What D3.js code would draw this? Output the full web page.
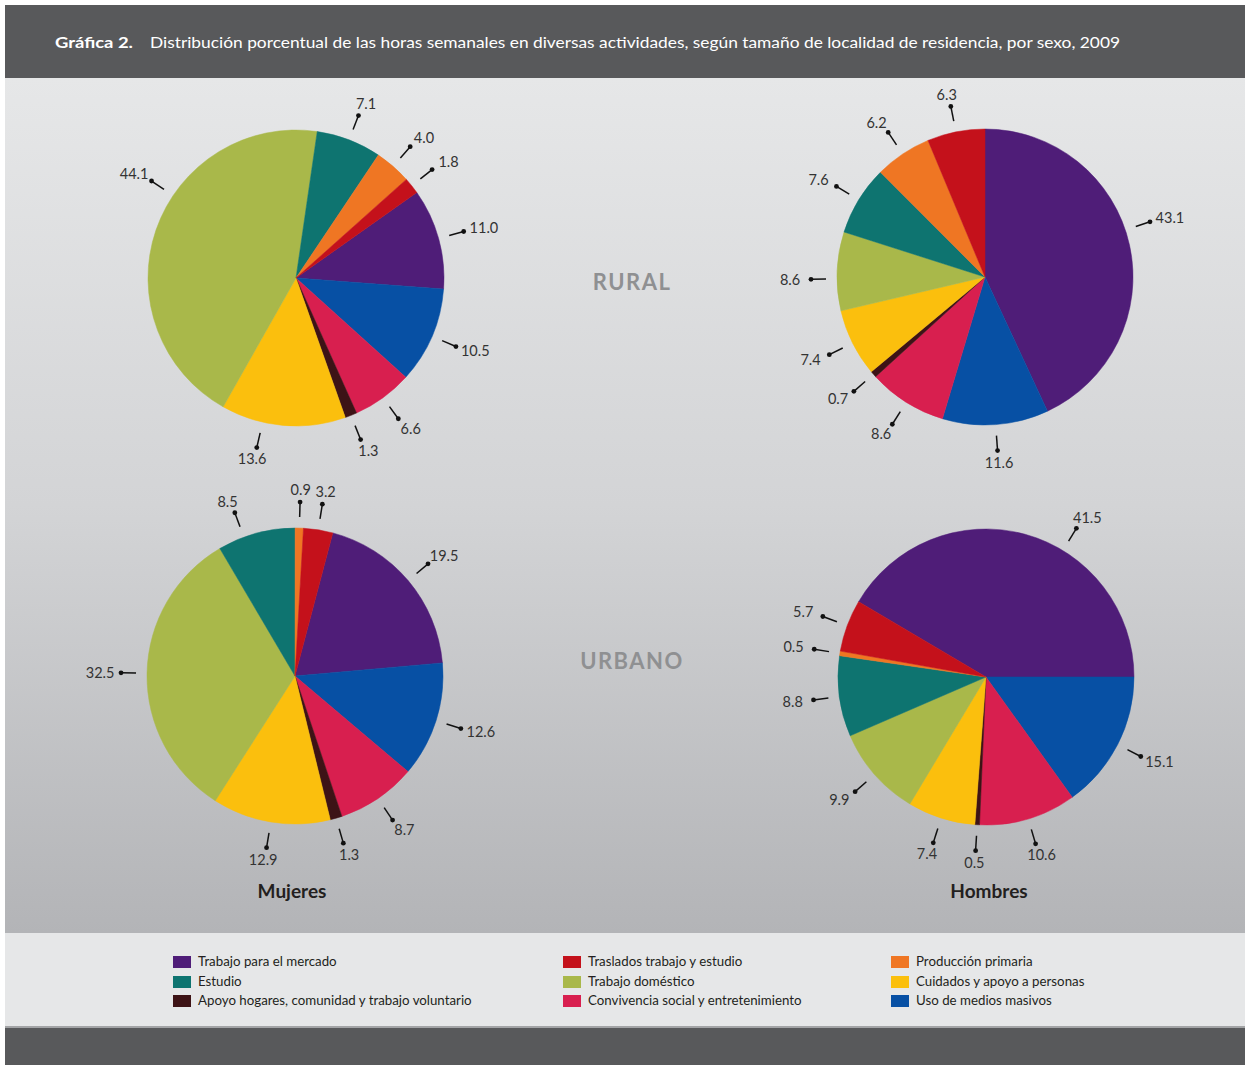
<!DOCTYPE html>
<html>
<head>
<meta charset="utf-8">
<script src="https://cdn.jsdelivr.net/npm/d3@7"></script>
<style>
  body { margin: 0; background: #fff; }
  svg text { font-family: Lato, "Open Sans", sans-serif; }
</style>
</head>
<body>
<div id="chart"></div>
<script>
// categories in the clockwise order used by the pies
var categories = [
  "Trabajo para el mercado",
  "Uso de medios masivos",
  "Convivencia social y entretenimiento",
  "Apoyo hogares, comunidad y trabajo voluntario",
  "Cuidados y apoyo a personas",
  "Trabajo doméstico",
  "Estudio",
  "Producción primaria",
  "Traslados trabajo y estudio"
];
// percentages, same order as categories
var ruralMujeres  = [11.0, 10.5, 6.6, 1.3, 13.6, 44.1, 7.1, 4.0, 1.8];
var ruralHombres  = [43.1, 11.6, 8.6, 0.7, 7.4, 8.6, 7.6, 6.2, 6.3];
var urbanoMujeres = [19.5, 12.6, 8.7, 1.3, 12.9, 32.5, 8.5, 0.9, 3.2];
var urbanoHombres = [41.5, 15.1, 10.6, 0.5, 7.4, 9.9, 8.8, 0.5, 5.7];
// legend reads column by column
var legendOrder = [0, 6, 3, 8, 5, 2, 7, 4, 1];

var colors = ["#4f1d78", "#0750a4", "#d81f4f", "#3d1316", "#fbbf0d", "#a9b84a", "#0e7470", "#ef7623", "#c4111b"];

var width = 1245, height = 1065;
var r = 148;

// pie layout: centre, rotation of first slice (deg), small label angle tweaks (deg)
var pies = [
  { values: ruralMujeres,  cx: 296, cy: 278, start: 54.7,  nudge: { 4: 8, 5: 15 } },
  { values: ruralHombres,  cx: 985, cy: 277, start: 0,     nudge: { 0: -6, 5: -3 } },
  { values: urbanoMujeres, cx: 295, cy: 676, start: 14.8,  nudge: { 6: -5 } },
  { values: urbanoHombres, cx: 986, cy: 677, start: -59.4, nudge: { 0: 16 } }
];

var svg = d3.select("#chart").append("svg")
    .attr("width", width)
    .attr("height", height);

var defs = svg.append("defs");
var grad = defs.append("linearGradient")
    .attr("id", "panel")
    .attr("x1", 0).attr("y1", 0).attr("x2", 0).attr("y2", 1);
grad.append("stop").attr("offset", "0%").attr("stop-color", "#e6e7e8");
grad.append("stop").attr("offset", "50%").attr("stop-color", "#d3d4d6");
grad.append("stop").attr("offset", "100%").attr("stop-color", "#b3b4b7");

// backgrounds
svg.append("rect").attr("x", 5).attr("y", 5).attr("width", width - 5).attr("height", 73).attr("fill", "#58595b");
svg.append("rect").attr("x", 5).attr("y", 78).attr("width", width - 5).attr("height", 855).attr("fill", "url(#panel)");
svg.append("rect").attr("x", 5).attr("y", 933).attr("width", width - 5).attr("height", 94).attr("fill", "#e6e7e8");
svg.append("rect").attr("x", 5).attr("y", 1026).attr("width", width - 5).attr("height", 2).attr("fill", "#a3a4a6");
svg.append("rect").attr("x", 5).attr("y", 1028).attr("width", width - 5).attr("height", 37).attr("fill", "#58595b");

// title
svg.append("text")
    .attr("x", 55).attr("y", 48)
    .attr("fill", "#fff")
    .style("font-size", "16px")
    .style("font-weight", "bold")
    .attr("textLength", 78).attr("lengthAdjust", "spacingAndGlyphs")
    .text("Gráfica 2.");
svg.append("text")
    .attr("x", 150).attr("y", 48)
    .attr("fill", "#fff")
    .style("font-size", "16px")
    .attr("textLength", 970).attr("lengthAdjust", "spacingAndGlyphs")
    .text("Distribución porcentual de las horas semanales en diversas actividades, según tamaño de localidad de residencia, por sexo, 2009");

var arc = d3.arc().innerRadius(0).outerRadius(r);
var rad = Math.PI / 180;

pies.forEach(function (p) {
  var pie = d3.pie().sort(null).value(function (d) { return d; })
      .startAngle(p.start * rad).endAngle(p.start * rad + 2 * Math.PI);
  var arcs = pie(p.values);
  var g = svg.append("g").attr("transform", "translate(" + p.cx + "," + p.cy + ")");

  g.selectAll("path.slice")
      .data(arcs)
    .enter().append("path")
      .attr("class", "slice")
      .attr("d", arc)
      .attr("fill", function (d, i) { return colors[i]; })
      .attr("stroke", function (d, i) { return colors[i]; })
      .attr("stroke-width", 0.5);

  arcs.forEach(function (d, i) {
    var a = (d.startAngle + d.endAngle) / 2 + (p.nudge[i] || 0) * rad;
    var s = Math.sin(a), c = -Math.cos(a);
    var r1 = r + 11, r2 = r + 26;
    g.append("line")
        .attr("x1", s * r1).attr("y1", c * r1)
        .attr("x2", s * r2).attr("y2", c * r2)
        .attr("stroke", "#111").attr("stroke-width", 1.5);
    g.append("circle")
        .attr("cx", s * r2).attr("cy", c * r2).attr("r", 2.4)
        .attr("fill", "#111");
    g.append("text")
        .attr("x", s * r2 + s * 21)
        .attr("y", c * r2 + c * 12)
        .attr("dy", "0.35em")
        .attr("text-anchor", "middle")
        .attr("fill", "#333")
        .style("font-size", "14.5px")
        .text(d3.format(".1f")(d.data));
  });
});

// section and column titles
[["RURAL", 632, 290], ["URBANO", 632, 669]].forEach(function (t) {
  svg.append("text")
      .attr("x", t[1]).attr("y", t[2])
      .attr("text-anchor", "middle")
      .attr("fill", "#8f9092")
      .style("font-size", "22px")
      .style("font-weight", "bold")
      .style("letter-spacing", "1.5px")
      .text(t[0]);
});
[["Mujeres", 292], ["Hombres", 989]].forEach(function (t) {
  svg.append("text")
      .attr("x", t[1]).attr("y", 898)
      .attr("text-anchor", "middle")
      .attr("fill", "#231f20")
      .style("font-size", "19px")
      .style("font-weight", "bold")
      .text(t[0]);
});

// legend, 3 columns x 3 rows
var colX = [173, 563, 891];
var rowY = [956, 976, 995];
var legend = svg.selectAll("g.legend")
    .data(legendOrder)
  .enter().append("g")
    .attr("class", "legend")
    .attr("transform", function (d, k) {
      return "translate(" + colX[Math.floor(k / 3)] + "," + rowY[k % 3] + ")";
    });
legend.append("rect")
    .attr("width", 18).attr("height", 12)
    .attr("fill", function (d) { return colors[d]; });
legend.append("text")
    .attr("transform", "translate(25,10) scale(0.95,1)")
    .attr("fill", "#231f20")
    .style("font-size", "14px")
    .text(function (d) { return categories[d]; });
</script>
</body>
</html>
